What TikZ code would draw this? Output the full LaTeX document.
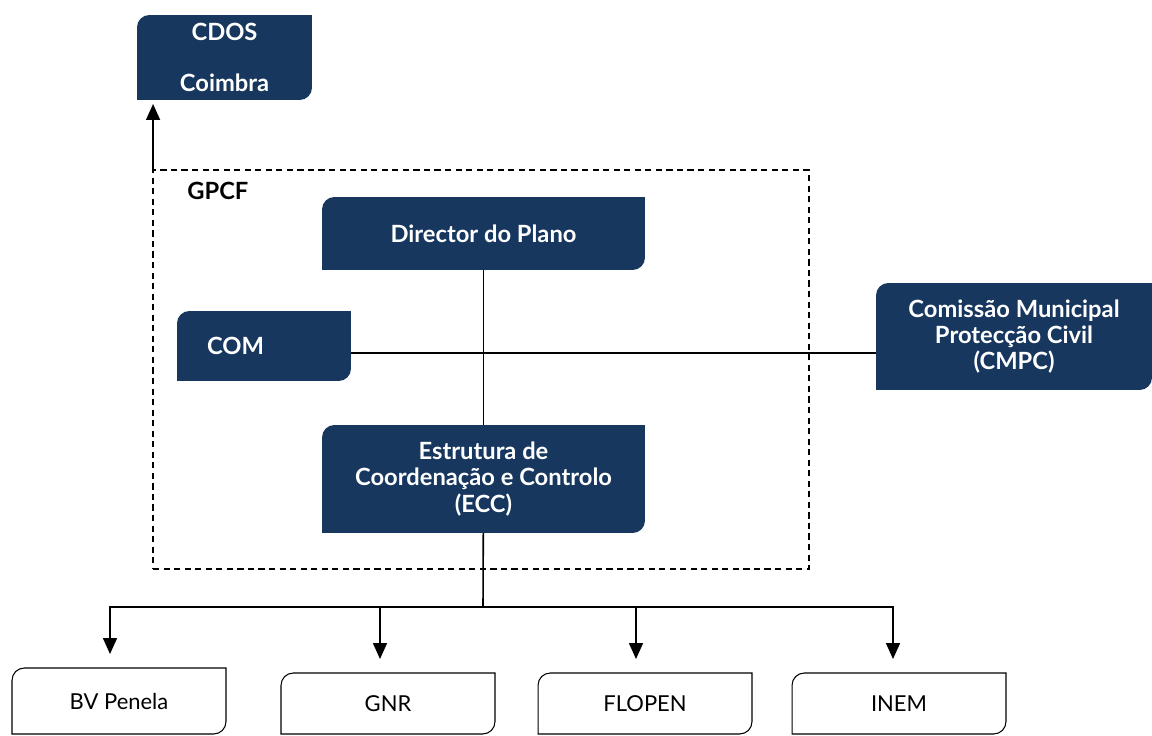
\documentclass[tikz,border=0pt]{standalone}
\usepackage{fontspec}
\setmainfont{Lato}
\usetikzlibrary{shapes, arrows.meta, positioning, backgrounds}
\definecolor{boxcol}{HTML}{17375E}
\tikzstyle{darkbox} = [rectangle, outer sep=0pt, inner sep=2pt, text centered, align=center, text=white, font=\bfseries\fontsize{13.5}{15}\selectfont]
\tikzstyle{whitebox} = [rectangle, outer sep=0pt, minimum width=4.28cm, minimum height=1.22cm, text centered, font=\fontsize{12.5}{14}\selectfont]
\tikzstyle{arrow} = [line width=0.9pt, -{Triangle[length=0.32cm,width=0.28cm]}, shorten >=0.28cm]
\tikzstyle{line} = [line width=0.9pt]
\tikzstyle{group} = [rectangle, draw=black, line width=0.8pt, dash pattern=on 3.5pt off 2.5pt, outer sep=0pt]
% box with rounded top-left and bottom-right corners, drawn behind a node
\newcommand{\leafshape}[2]{%
  \path[#2] (#1.north) [rounded corners=7pt] -- (#1.north west) -- (#1.west) [sharp corners] -- (#1.south west) -- (#1.south) [rounded corners=7pt] -- (#1.south east) -- (#1.east) [sharp corners] -- (#1.north east) -- cycle;}

\begin{document}
\begin{tikzpicture}[x=0.02cm, y=-0.02cm]
    \useasboundingbox (0,0) rectangle (1152,736);

    \node (gpcfbox) [group, minimum width=13.12cm, minimum height=7.98cm] at (481,369.5) {};
    \node (gpcf) [anchor=west, inner sep=0pt, font=\bfseries\fontsize{13.5}{15}\selectfont] at (187,191) {GPCF};

    \node (cdos) [darkbox, minimum width=3.5cm, minimum height=1.7cm] at (224.5,57.5) {CDOS\\[0.5cm]Coimbra};
    \node (director) [darkbox, minimum width=6.46cm, minimum height=1.46cm] at (483.5,233.5) {Director do Plano};
    \node (com) [darkbox, minimum width=3.48cm, minimum height=1.4cm, text width=2.28cm, align=left, inner xsep=0.6cm] at (264,346) {COM};
    \node (cmpc) [darkbox, minimum width=5.52cm, minimum height=2.14cm] at (1014,336.5) {Comissão Municipal\\Protecção Civil\\(CMPC)};
    \node (ecc) [darkbox, minimum width=6.46cm, minimum height=2.16cm] at (483.5,479) {Estrutura de\\Coordenação e Controlo\\(ECC)};

    \node (bv) [whitebox, minimum height=1.32cm] at (119,701) {BV Penela};
    \node (gnr) [whitebox] at (388,703.5) {GNR};
    \node (flopen) [whitebox] at (645,703.5) {FLOPEN};
    \node (inem) [whitebox] at (899,703.5) {INEM};
    \coordinate (bus) at (483,607);

    \begin{pgfonlayer}{background}
        \leafshape{cdos}{fill=boxcol}
        \leafshape{director}{fill=boxcol}
        \leafshape{com}{fill=boxcol}
        \leafshape{cmpc}{fill=boxcol}
        \leafshape{ecc}{fill=boxcol}
        \leafshape{bv}{draw=black, line width=0.6pt, fill=white}
        \leafshape{gnr}{draw=black, line width=0.6pt, fill=white}
        \leafshape{flopen}{draw=black, line width=0.6pt, fill=white}
        \leafshape{inem}{draw=black, line width=0.6pt, fill=white}
    \end{pgfonlayer}

    \draw [arrow, shorten >=0.08cm] (gpcfbox.north west) -- (gpcfbox.north west |- cdos.south);
    \draw [line] (director) -- (ecc);
    \draw [line] ([yshift=-0.14cm]com.east) -- ([yshift=-0.14cm]com.east -| cmpc.west);
    \draw [line] (ecc) -- (bus);
    \draw [arrow] (bus) -| ([xshift=-0.18cm]bv.north);
    \draw [arrow] (bus) -| ([xshift=-0.12cm]inem.north);
    \draw [arrow] ([xshift=-0.16cm]gnr.north |- bus) -- ([xshift=-0.16cm]gnr.north);
    \draw [arrow] ([xshift=-0.18cm]flopen.north |- bus) -- ([xshift=-0.18cm]flopen.north);

\end{tikzpicture}
\end{document}
